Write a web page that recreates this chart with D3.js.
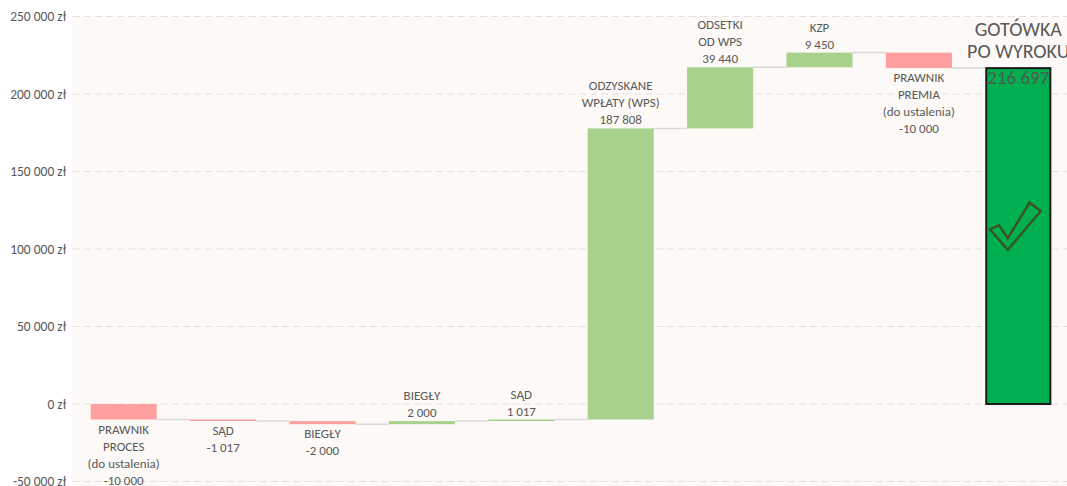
<!DOCTYPE html>
<html>
<head>
<meta charset="utf-8">
<script src="https://cdn.jsdelivr.net/npm/d3@7"></script>
<style>
  body { margin: 0; background: #fff; }
  text { font-family: Carlito, Calibri, Lato, sans-serif; }
</style>
</head>
<body>
<div id="chart"></div>
<script>
// data
const categories = ["PRAWNIK|PROCES|(do ustalenia)", "SĄD", "BIEGŁY", "BIEGŁY", "SĄD",
    "ODZYSKANE|WPŁATY (WPS)", "ODSETKI|OD WPS", "KZP", "PRAWNIK|PREMIA|(do ustalenia)", "GOTÓWKA|PO WYROKU"];
const values = [-10000, -1017, -2000, 2000, 1017, 187808, 39440, 9450, -10000, 216697];
const isTotal = [false, false, false, false, false, false, false, false, false, true];
const yTicks = [-50000, 0, 50000, 100000, 150000, 200000, 250000];

const width = 1067;
const height = 486;

const pl = d3.formatLocale({ decimal: ",", thousands: " ", grouping: [3], currency: ["", " zł"], minus: "-" });
const fmt = pl.format(",d");
const fmtZl = pl.format("$,d");

const svg = d3.select("#chart")
    .append("svg")
    .attr("width", width)
    .attr("height", height);

const x = d3.scaleBand()
    .domain(d3.range(categories.length))
    .range([74, 1068])
    .paddingInner(0.335)
    .paddingOuter(0.1675);

const y = d3.scaleLinear()
    .domain([-50000, 250000])
    .range([481.5, 16.5]);

// running totals for the waterfall
let run = 0;
const steps = values.map((v, i) => {
    if (isTotal[i]) return { i, v, start: 0, end: v, total: true };
    const s = { i, v, start: run, end: run + v, total: false };
    run += v;
    return s;
});

// plot area background
svg.append("rect")
    .attr("x", 72)
    .attr("y", y(250000))
    .attr("width", width - 72)
    .attr("height", height - y(250000))
    .attr("fill", "#fdf9f6");

// grid
svg.append("g")
    .selectAll("line")
    .data(yTicks)
    .enter().append("line")
    .attr("x1", 73)
    .attr("x2", width)
    .attr("y1", d => y(d))
    .attr("y2", d => y(d))
    .attr("stroke", "#e3dfdc")
    .attr("stroke-width", 1)
    .attr("stroke-dasharray", "7,4");

// y axis labels (no domain line)
const yAxis = svg.append("g")
    .attr("transform", "translate(72,0)")
    .call(d3.axisLeft(y).tickValues(yTicks).tickFormat(fmtZl).tickSize(0).tickPadding(6));
yAxis.select(".domain").remove();
yAxis.selectAll("text")
    .attr("fill", "#595959")
    .style("font-size", "13.5px");

// connectors between bars
svg.append("g")
    .selectAll("line")
    .data(steps.slice(0, -1))
    .enter().append("line")
    .attr("x1", d => x(d.i) + x.bandwidth())
    .attr("x2", d => x(d.i + 1))
    .attr("y1", d => y(d.end))
    .attr("y2", d => y(d.end))
    .attr("stroke", "#d9d9d9")
    .attr("stroke-width", 1.5);

// bars
svg.append("g")
    .selectAll("rect")
    .data(steps)
    .enter().append("rect")
    .attr("x", d => d.total ? x(d.i) + 1 : x(d.i))
    .attr("width", d => d.total ? x.bandwidth() - 2 : x.bandwidth())
    .attr("y", d => y(Math.max(d.start, d.end)))
    .attr("height", d => Math.max(1.5, Math.abs(y(d.start) - y(d.end))))
    .attr("fill", d => d.total ? "#00b050" : (d.v < 0 ? "#ff9f9f" : "#a9d18e"))
    .attr("stroke", d => d.total ? "#1a1a1a" : "none")
    .attr("stroke-width", 2);

// labels
const lineH = 17;
steps.forEach(d => {
    const cx = x(d.i) + x.bandwidth() / 2;
    const lines = categories[d.i].split("|");
    if (d.total) {
        const top = y(d.end);
        lines.forEach((t, k) => {
            svg.append("text")
                .attr("x", cx)
                .attr("y", top - 10 - (lines.length - 1 - k) * 22.5)
                .attr("text-anchor", "middle")
                .attr("fill", "#595959")
                .style("font-size", "20px")
                .text(t);
        });
        svg.append("text")
            .attr("x", cx)
            .attr("y", top + 16)
            .attr("text-anchor", "middle")
            .attr("fill", "#4f5a4f")
            .style("font-size", "19px")
            .text(fmt(d.v));
        return;
    }
    const all = lines.concat([fmt(d.v)]);
    if (d.v < 0) {
        const bottom = y(Math.min(d.start, d.end));
        all.forEach((t, k) => {
            svg.append("text")
                .attr("x", cx)
                .attr("y", bottom + 14 + k * lineH)
                .attr("text-anchor", "middle")
                .attr("fill", "#595959")
                .style("font-size", "13px")
                .text(t);
        });
    } else {
        const top = y(Math.max(d.start, d.end));
        all.forEach((t, k) => {
            svg.append("text")
                .attr("x", cx)
                .attr("y", top - 4 - (all.length - 1 - k) * lineH)
                .attr("text-anchor", "middle")
                .attr("fill", "#595959")
                .style("font-size", "13px")
                .text(t);
        });
    }
});

// check mark on the total bar: [fraction of bar width, value]
const checkShape = [[0.07, 112700], [0.21, 115300], [0.34, 106900], [0.67, 129900], [0.84, 124500], [0.34, 99400]];
const last = steps[steps.length - 1];
svg.append("path")
    .attr("d", d3.line()
        .x(p => x(last.i) + p[0] * x.bandwidth())
        .y(p => y(p[1]))(checkShape) + "Z")
    .attr("fill", "none")
    .attr("stroke", "#375623")
    .attr("stroke-width", 2.5)
    .attr("stroke-linejoin", "miter");
</script>
</body>
</html>
